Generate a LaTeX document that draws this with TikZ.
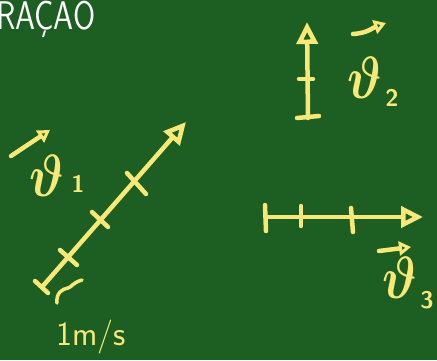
\documentclass[tikz,border=0pt]{standalone}
\usepackage{bm}
\usetikzlibrary{arrows.meta}
\definecolor{board}{RGB}{29,94,34}
\definecolor{chalk}{RGB}{248,232,120}
\tikzset{
  pen/.style={draw=chalk, line width=4.5pt, line cap=round, line join=round},
  bighead/.style={-{Triangle[open,length=22pt,width=21pt,line width=4.5pt]}},
  smallhead/.style={-{Triangle[open,length=12pt,width=14pt,line width=4pt]}},
  lbl/.style={text=chalk, inner sep=0pt, xscale=2.0, yscale=2.4, font=\Huge},
  sub/.style={text=chalk, inner sep=0pt, font=\fontsize{24}{28}\selectfont\sffamily\bfseries},
}
\begin{document}
\begin{tikzpicture}[x=1pt,y=-1pt]
\fill[board] (0,0) rectangle (437,360);
\useasboundingbox (0,0) rectangle (437,360);

% top text
\node[anchor=base west, text=white, inner sep=0pt, xscale=0.8,
      font=\fontsize{40}{44}\selectfont\sffamily] (title) at (-4,29) {RAÇÃO};

% vector 1 (diagonal)
\coordinate (a1) at (42,287);
\coordinate (b1) at (186,122);
\draw[pen, bighead] (a1) -- (b1);
\draw[pen] (35,281) -- (48,293);
\draw[pen] (60,250) -- (77,265);
\draw[pen] (92,212) -- (108,227);
\draw[pen] (127,173) -- (146,194);
\draw[pen, line width=3.5pt] (57,303) .. controls (56,293) and (62,289) .. (68,288)
      .. controls (72,287) and (72,283) .. (82,280);
\node[text=chalk, inner sep=0pt, font=\fontsize{34}{40}\selectfont\sffamily] (unit) at (91,337) {1m/s};

% label v1
\coordinate (p1) at (11,156);
\coordinate (q1) at (50,130);
\draw[pen, smallhead] (p1) -- (q1);
\node[lbl] (v1) at (47,176) {$\bm{\vartheta}$};
\node[sub] (s1) at (78,184) {1};

% vector 2 (vertical)
\coordinate (a2) at (308,118);
\coordinate (b2) at (307,22);
\draw[pen, bighead] (a2) -- (b2);
\draw[pen] (299,79) -- (313,79);
\draw[pen] (297,118) -- (319,116);

% label v2
\coordinate (p2) at (353,34);
\coordinate (q2) at (386,23);
\draw[pen, smallhead] (p2) .. controls (368,33) and (372,28) .. (q2);
\node[lbl] (v2) at (365,78) {$\bm{\vartheta}$};
\node[sub] (s2) at (392,98) {2};

% vector 3 (horizontal)
\coordinate (a3) at (266,217);
\coordinate (b3) at (423,217);
\draw[pen, bighead] (a3) -- (b3);
\draw[pen] (265,205) -- (266,231);
\draw[pen] (301,206) -- (301,226);
\draw[pen] (351,208) -- (353,232);

% label v3
\coordinate (p3) at (379,251);
\coordinate (q3) at (411,247);
\draw[pen, smallhead] (p3) -- (q3);
\node[lbl] (v3) at (400,278) {$\bm{\vartheta}$};
\node[sub] (s3) at (427,300) {3};
\end{tikzpicture}
\end{document}
